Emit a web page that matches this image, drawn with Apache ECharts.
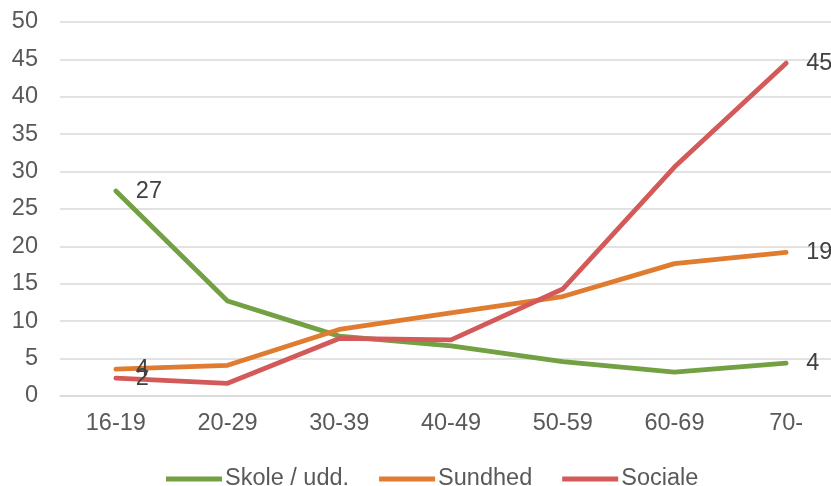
<!DOCTYPE html>
<html><head><meta charset="utf-8">
<script src="https://cdn.jsdelivr.net/npm/echarts@6/dist/echarts.min.js"></script>
<style>html,body{margin:0;padding:0;background:#fff;overflow:hidden;width:831px;height:486px}#c{width:846px;height:486px}</style>
</head><body><div id="c"></div>
<script>
var categories = ['16-19','20-29','30-39','40-49','50-59','60-69','70-'];
var skole = [27.4, 12.7, 8.0, 6.7, 4.6, 3.2, 4.4];
var sundhed = [3.6, 4.1, 8.9, 11.1, 13.3, 17.7, 19.2];
var sociale = [2.4, 1.7, 7.7, 7.5, 14.3, 30.6, 44.5];
var seriesNames = ['Skole / udd.', 'Sundhed', 'Sociale'];
var colors = ['#72A043', '#E07C30', '#D35A58'];
var FONT = 'Liberation Sans, Arial, sans-serif';

var chart = echarts.init(document.getElementById('c'), null, {renderer:'canvas'});
function mk(name, data, color){
  return {
    name: name, type: 'line', data: data,
    symbol: 'circle', symbolSize: 0, showSymbol: true,
    lineStyle: {color: color, width: 4.8, cap: 'round', join: 'round'},
    itemStyle: {color: color},
    animation: false,
    label: {
      show: true, position: 'right', distance: 20,
      color: '#404040', fontSize: 23.5, fontFamily: FONT,
      formatter: function(p){ return (p.dataIndex === 0 || p.dataIndex === data.length-1) ? String(Math.round(p.value)) : ''; }
    },
    emphasis: {disabled: true}
  };
}
chart.setOption({
  backgroundColor: '#fff',
  animation: false,
  grid: {left: 60, top: 22, height: 374, width: 782, containLabel: false},
  legend: {
    top: 462, left: 161, itemWidth: 56, itemHeight: 5, itemGap: 30,
    icon: 'rect',
    textStyle: {color: '#595959', fontSize: 23.5, fontFamily: FONT, padding: [0,0,0,-2]},
    data: seriesNames
  },
  xAxis: {
    type: 'category', data: categories, boundaryGap: true,
    axisLine: {show: true, lineStyle: {color: '#d9d9d9', width: 1.5}},
    axisTick: {show: false},
    axisLabel: {color: '#595959', fontSize: 23.5, margin: 16, fontFamily: FONT}
  },
  yAxis: {
    type: 'value', min: 0, max: 50, interval: 5,
    axisLine: {show: false}, axisTick: {show: false},
    splitLine: {lineStyle: {color: '#d9d9d9', width: 1.5}},
    axisLabel: {color: '#595959', fontSize: 23.5, margin: 22, fontFamily: FONT}
  },
  series: [mk(seriesNames[0], skole, colors[0]), mk(seriesNames[1], sundhed, colors[1]), mk(seriesNames[2], sociale, colors[2])]
});
</script></body></html>
